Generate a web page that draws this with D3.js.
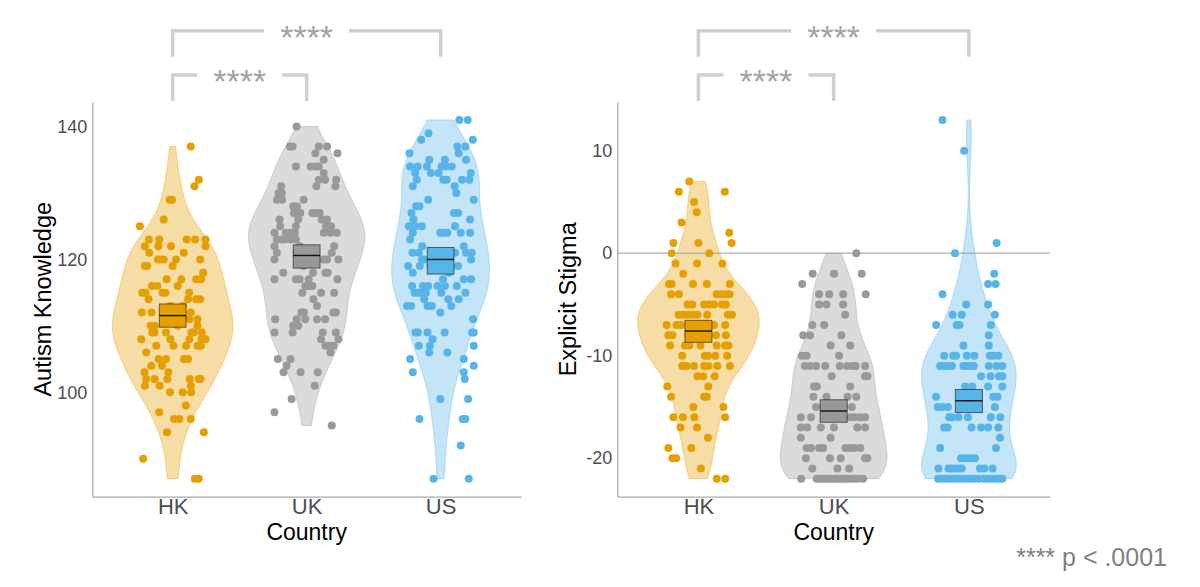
<!DOCTYPE html>
<html>
<head>
<meta charset="utf-8">
<script src="https://cdn.jsdelivr.net/npm/d3@7/dist/d3.min.js"></script>
<style>
  html, body { margin: 0; background: #fff; }
  svg { display: block; font-family: "Liberation Sans", Arial, sans-serif; }
</style>
</head>
<body>
<svg id="chart" width="1200" height="587"></svg>
<script>
const countries = ['HK', 'UK', 'US'];
const groupColors = ['#E69F00', '#999999', '#56B4E9'];

// rows: [score, [jitter of each respondent with that score, -1..1]]
const knowledgeHK = [
  [137, [0.54]], [132, [0.78]], [131, [0.65]], [129, [-0.09, -0.02]], [126, [-0.27]], [125, [-0.98]],
  [123, [-0.71, -0.4, 0.42, 0.67, 0.98]], [122, [-0.83, -0.43, -0.05, 0.98]], [121, [-0.7, 0.33]],
  [120, [-0.44, -0.35, -0.27, 0.1, 0.82]], [119, [-0.83, -0.76, 0]], [118, [0.91]],
  [117, [-0.18, 0.26, 0.7, 0.85]], [116, [-0.62, -0.46, 0.15]], [115, [-0.91, -0.81, -0.3, -0.22, 0.49]],
  [114, [-0.72, 0.46, 0.7, 0.82]], [113, [-0.07, 0.3]], [112, [-0.92, -0.63, -0.25, 0.2, 0.54]],
  [111, [-0.1, 0.5, 0.74]], [110, [-0.66, -0.54, 0.15, 0.74]], [109, [-0.61, -0.54, -0.2, 0.56, 0.63, 0.87]],
  [108, [-0.94, -0.07, 0.5, 0.86, 0.98]], [107, [-0.49, 0.02, 0.4, 0.74, 0.84]], [106, [-0.79]],
  [105, [-0.42, -0.2, 0.34, 0.46]], [104, [-0.64, -0.32]], [103, [-0.84, -0.13]],
  [102, [-0.79, -0.54, -0.16, 0.51, 0.78, 0.83]], [101, [-0.83, -0.39, 0.54]], [100, [-0.08, 0.3, 0.55]],
  [98, [0.39]], [97, [-0.4]], [96, [0.04, 0.2, 0.54]], [94, [-0.17, 0.93]], [90, [-0.88]], [87, [0.66, 0.78]]
];
const knowledgeUK = [
  [140, [-0.3]], [137, [-0.5, -0.42, 0.36, 0.61]], [136, [0.26, 0.92]], [135, [0.51]],
  [134, [-0.32, 0.12, 0.26, 0.36]], [133, [0.51]], [132, [0.36, 0.55, 0.88]], [131, [-0.76, 0.29, 0.86]],
  [130, [-0.84, -0.74]], [129, [-0.89, -0.73, -0.09]], [128, [-0.4, -0.29]],
  [127, [-0.38, -0.19, 0.17, 0.26, 0.39]], [126, [-0.81, -0.25, 0.45, 0.61]], [125, [-0.79, -0.32, 0.58, 0.73]],
  [124, [-0.96, -0.62, -0.5, -0.35, 0.51, 0.71, 0.9]], [123, [-0.89, -0.76, -0.65, -0.48, -0.32]],
  [122, [-0.96, -0.2, 0.82]], [121, [-0.89, -0.3, 0.1, 0.75]], [120, [-0.96, 0.2, 0.51, 0.61, 0.95]],
  [119, [-0.1]], [118, [-0.7, 0.19, 0.56, 0.63]], [117, [-0.96, -0.32, -0.21, 0.06, 0.92]],
  [116, [-0.04, 0.06, 0.17]], [115, [-0.13, 0.43, 0.82]], [114, [0.2]], [113, [0.31]],
  [112, [-0.16, -0.08, 0.8, 0.87]], [111, [-0.94, -0.3, -0.04, 0.31, 0.55]], [110, [-0.4, -0.25]],
  [109, [-0.96, -0.42, 0.48, 0.87]], [108, [0.43, 0.95]], [107, [0.56, 0.68, 0.8]], [106, [0.71]],
  [105, [-0.86, -0.48]], [104, [-0.6]], [103, [-0.69, -0.18, 0.33]], [101, [0.24]], [99, [-0.45]],
  [97, [-0.96]], [95, [0.75]]
];
const knowledgeUS = [
  [141, [0.56, 0.81]], [139, [-0.36]], [138, [-0.58, 0.96]], [137, [0.5, 0.74]], [136, [-0.93, 0.54]],
  [135, [-0.34, 0.13, 0.76]], [134, [-0.91, -0.68, -0.41, 0.03, 0.15, 0.33]], [133, [-0.76, -0.29, -0.06, 0.9]],
  [132, [-0.71, 0.08, 0.18, 0.64, 0.86]], [131, [-0.83, 0.42]], [130, [0.47]], [129, [-0.37, 0.99]],
  [128, [-0.73, -0.63]], [127, [-0.87, 0.4, 0.52]], [126, [-0.81, 0.88]],
  [125, [-0.95, -0.86, -0.75, -0.56, 0.43]], [124, [-0.83, -0.01, 0.08, 0.2, 0.6, 0.88]], [123, [-0.91]],
  [122, [-0.55, 0.69]], [121, [-0.84, -0.65, -0.2, 0.43, 0.76, 0.93]], [120, [-0.56, -0.49, 0.1, 0.91]],
  [119, [-0.97, -0.62, -0.3, 0.52]], [118, [-0.83, 0.25]], [117, [0.07, 0.69, 0.91]],
  [116, [-0.85, -0.53, -0.37, -0.09, 0.13, 0.48]], [115, [-0.78, -0.68, -0.6, -0.44, 0.02, 0.74]],
  [114, [-0.49, 0.23, 0.54]], [113, [-1.0, -0.88, -0.39, -0.26, 0.32]], [112, [-0.01]], [111, [0.97]],
  [109, [-0.75, -0.68, -0.39, 0.12, 0.94, 0.99]], [108, [-0.24]], [107, [-0.65, -0.32, 0.99]],
  [106, [-0.34, 0.2]], [105, [-0.91, 0.69]], [104, [0.99]], [103, [-0.83, 0.69]], [102, [0.72]],
  [99, [-0.01, 0.82]], [96, [-0.63, 0.66, 0.74]], [92, [0.6]], [87, [-0.21, 0.84]]
];
const knowledgeMean = [111.55, 120.6, 120.0];
const knowledgeLow = [109.8, 118.7, 117.8];
const knowledgeHigh = [113.3, 122.2, 121.8];
const knowledgeTicks = [100, 120, 140];

const stigmaHK = [
  [7, [-0.27]], [6, [-0.58, 0.78]], [5, [-0.13]], [4, [-0.05]], [3, [-0.5]], [2, [0.91]],
  [1, [-0.74, 0, 0.98]], [0, [-0.79, 0.32]], [-1, [-0.68, -0.04, 0.71]], [-2, [-0.45]],
  [-3, [-0.87, -0.79, -0.16, 0.25, 0.93]], [-4, [-0.81, -0.58, 0.54, 0.68, 0.79, 0.92]],
  [-5, [-0.32, -0.18, 0.17, 0.31, 0.46, 0.7, 0.81]], [-6, [-0.58, -0.45, -0.3, -0.17, -0.03, 0.26, 0.87, 0.99]],
  [-7, [-0.94, -0.65, -0.52, -0.2, 0.25, 0.46, 0.79]], [-8, [-0.89, -0.77, -0.3, 0.05, 0.52, 0.81]],
  [-9, [-0.84, -0.4, -0.27, 0.06, 0.54, 0.79, 0.89]], [-10, [-0.48, 0.19, 0.28, 0.5, 0.85]],
  [-11, [-0.48, -0.35, -0.13, 0.17, 0.3, 0.56, 0.93]], [-12, [-0.03, 0.14, 0.48]], [-13, [-0.92, 0.29]],
  [-14, [-0.81, 0.17, 0.25]], [-15, [-0.15, 0.74]], [-16, [-0.74, -0.46, -0.12, 0.79]], [-17, [-0.53, -0.04]],
  [-18, [0.28]], [-19, [-0.89, -0.21]], [-20, [-0.77, -0.66]], [-21, [0.07]], [-22, [0.54, 0.79]]
];
const stigmaUK = [
  [0, [0.67]], [-2, [-0.62, 0.01, 0.83]], [-3, [-0.93]], [-4, [-0.43, -0.13, 0.28, 0.95]],
  [-5, [-0.43, -0.21, 0.28]], [-6, [0.34]], [-7, [-0.63, -0.28]], [-8, [-0.9, -0.7, 0.23]], [-9, [-0.09, 0.49]],
  [-10, [-0.94, -0.8, 0.16]], [-11, [-0.85, -0.7, -0.52, -0.25, 0.18, 0.4, 0.56, 0.65, 0.93]],
  [-12, [-0.06, 0.93, 1.0]], [-13, [-0.58, -0.5, 0.49]], [-14, [-0.6, -0.21, 0.41, 0.67]],
  [-15, [-0.52, -0.1, 0.3, 0.54]], [-16, [-0.97, -0.67, 0.2, 0.5, 0.62, 0.79, 0.93]],
  [-17, [-0.97, -0.78, -0.38, 0.01, 0.7, 0.93]], [-18, [-0.97, -0.09]],
  [-19, [-0.8, -0.67, -0.43, -0.31, 0.35, 0.5, 0.62, 0.79]], [-20, [-0.82, -0.11, 0.21, 0.93, 1.0]],
  [-21, [-0.63, 0.11, 0.46]],
  [-22, [-0.96, -0.5, -0.42, -0.33, -0.24, -0.15, -0.06, 0.03, 0.12, 0.21, 0.3, 0.4, 0.52, 0.62, 0.72, 0.87]]
];
const stigmaUS = [
  [13, [-0.78]], [10, [-0.14]], [1, [0.82]], [0, [-0.41]], [-2, [0.75]], [-3, [0.57, 0.79]], [-4, [-0.78]],
  [-5, [-0.08, 0.57]], [-6, [-0.48, -0.21, 0.77]], [-7, [-0.97, -0.36, -0.28, 0.65]], [-8, [0.59]],
  [-9, [-0.16, 0.59]], [-10, [-0.73, -0.46, -0.38, -0.06, 0.16, 0.62, 0.72, 0.87]],
  [-11, [-0.85, -0.75, -0.65, -0.5, -0.16, -0.06, 0.04, 0.14, 0.59, 0.82, 0.99]],
  [-12, [0.36, 0.64, 0.89, 0.99]], [-13, [-0.11, 0.1, 0.57, 0.99]], [-14, [-0.97, -0.2, 0.3, 0.72, 0.85]],
  [-15, [-0.92, -0.78, -0.62, 0.1, 0.77]], [-16, [-0.58, -0.5, -0.31, -0.03, 0.65, 0.93]],
  [-17, [-0.73, -0.63, 0.08, 0.36, 0.57, 0.87]], [-18, [0.92]], [-19, [-0.85, 0.8]],
  [-20, [-0.23, -0.13, -0.03, 0.08, 0.18]], [-21, [-0.9, -0.6, -0.5, -0.41, -0.31, -0.21, 0.33, 0.46, 0.7]],
  [-22, [-0.91, -0.8, -0.68, -0.56, -0.44, -0.33, -0.21, -0.09, 0.03, 0.14, 0.28, 0.43, 0.54, 0.66, 0.78, 0.9, 0.99]]
];
const stigmaMean = [-7.6, -15.4, -14.4];
const stigmaLow = [-8.7, -16.5, -15.55];
const stigmaHigh = [-6.55, -14.3, -13.3];
const stigmaTicks = [-20, -10, 0, 10];

const comparisons = [['HK', 'US'], ['HK', 'UK']];
const pLabel = '****';
const footnote = '**** p < .0001';

const FONT = '"Liberation Sans", Arial, sans-serif';
const svg = d3.select('#chart');

// ── density (gaussian kernel, bw.nrd0, trimmed to data range) ─────────────

function bwNrd0(vals) {
  const s = vals.slice().sort(d3.ascending);
  const iqr = d3.quantile(s, 0.75) - d3.quantile(s, 0.25);
  const lo = Math.min(d3.deviation(s), iqr / 1.34);
  return 0.9 * lo * Math.pow(s.length, -0.2);
}

function density(vals) {
  const bw = bwNrd0(vals);
  const [a, b] = d3.extent(vals);
  const k = 1 / (bw * Math.sqrt(2 * Math.PI));
  return d3.range(512).map(i => {
    const t = a + (b - a) * i / 511;
    return { t, d: k * d3.mean(vals, v => Math.exp(-0.5 * ((t - v) / bw) ** 2)) };
  });
}

// ── one panel ────────────────────────────────────────────────────────────

function panel(cfg) {
  const g = svg.append('g');
  const pts = cfg.groups.map(rows => rows.flatMap(([v, js]) => js.map(j => ({ v, j }))));
  const all = pts.flat().map(p => p.v);
  const [mn, mx] = d3.extent(all);
  const pad = (mx - mn) * 0.05;

  const x = d3.scalePoint().domain(countries).range([cfg.x0, cfg.x1]).padding(0.6);
  const y = d3.scaleLinear().domain([mn - pad, mx + pad]).range([cfg.y1, cfg.y0]);
  const step = x.step();

  const dens = pts.map(p => density(p.map(d => d.v)));
  const maxD = d3.max(dens.flat(), d => d.d);
  const w = d3.scaleLinear().domain([0, maxD]).range([0, 0.45 * step]);

  // violins
  countries.forEach((c, i) => {
    const cx = x(c);
    g.append('path').datum(dens[i])
      .attr('d', d3.area().y(d => y(d.t)).x0(d => cx - w(d.d)).x1(d => cx + w(d.d)))
      .attr('fill', groupColors[i]).attr('fill-opacity', 0.35)
      .attr('stroke', groupColors[i]).attr('stroke-opacity', 0.5).attr('stroke-width', 0.8);
  });

  if (cfg.zeroLine) {
    g.append('line')
      .attr('x1', cfg.x0).attr('x2', cfg.x1)
      .attr('y1', y(0)).attr('y2', y(0))
      .attr('stroke', '#9a9a9a').attr('stroke-width', 1);
  }

  // jittered respondents
  countries.forEach((c, i) => {
    const cx = x(c);
    g.append('g').selectAll('circle')
      .data(pts[i])
      .join('circle')
      .attr('cx', d => cx + d.j * 0.25 * step)
      .attr('cy', d => y(d.v))
      .attr('r', 4)
      .attr('fill', groupColors[i]);
  });

  // mean + CI crossbar
  countries.forEach((c, i) => {
    const cx = x(c), bw = 0.1 * step;
    g.append('rect')
      .attr('x', cx - bw).attr('width', 2 * bw)
      .attr('y', y(cfg.high[i])).attr('height', y(cfg.low[i]) - y(cfg.high[i]))
      .attr('fill', groupColors[i])
      .attr('stroke', 'rgba(0,0,0,0.55)').attr('stroke-width', 1);
    g.append('line')
      .attr('x1', cx - bw).attr('x2', cx + bw)
      .attr('y1', y(cfg.mean[i])).attr('y2', y(cfg.mean[i]))
      .attr('stroke', '#111').attr('stroke-width', 1.4);
  });

  // axes
  const ay = g.append('g').attr('transform', `translate(${cfg.x0},0)`)
    .call(d3.axisLeft(y).tickValues(cfg.ticks).tickSize(0).tickPadding(5).tickFormat(d => String(d)))
    .attr('font-family', FONT).attr('font-size', 18);
  ay.select('.domain').attr('stroke', '#a8a8a8').attr('stroke-width', 1.2);
  ay.selectAll('text').attr('fill', '#4d4d4d');

  const ax = g.append('g').attr('transform', `translate(0,${cfg.y1})`)
    .call(d3.axisBottom(x).tickSize(0).tickPadding(1.5))
    .attr('font-family', FONT).attr('font-size', 22);
  ax.select('.domain').attr('stroke', '#a8a8a8').attr('stroke-width', 1.2);
  ax.selectAll('text').attr('fill', '#4d4d4d');

  g.append('text')
    .attr('x', (cfg.x0 + cfg.x1) / 2).attr('y', cfg.y1 + 43)
    .attr('text-anchor', 'middle').attr('font-size', 23).attr('fill', '#000')
    .text('Country');

  g.append('text')
    .attr('transform', `translate(${cfg.x0 - 41},${(cfg.y0 + cfg.y1) / 2}) rotate(-90)`)
    .attr('text-anchor', 'middle').attr('font-size', 23.5).attr('fill', '#000')
    .text(cfg.title);

  // significance brackets
  comparisons.forEach(([a, b], k) => {
    const top = cfg.y0 - 71.3 + k * 44.3;
    const xa = x(a), xb = x(b), xm = (xa + xb) / 2;
    const t = g.append('text')
      .attr('x', xm).attr('y', top + 17.8)
      .attr('text-anchor', 'middle').attr('font-size', 34).attr('fill', '#a3a3a3')
      .text(pLabel);
    const half = t.node().getComputedTextLength() / 2 + 16;
    g.append('path')
      .attr('d', `M${xa},${top + 26}V${top}H${xm - half}M${xm + half},${top}H${xb}V${top + 26}`)
      .attr('fill', 'none').attr('stroke', '#cfcfcf').attr('stroke-width', 3.5);
  });
}

panel({
  x0: 92.3, x1: 521, y0: 102, y1: 496.6,
  groups: [knowledgeHK, knowledgeUK, knowledgeUS],
  mean: knowledgeMean, low: knowledgeLow, high: knowledgeHigh,
  ticks: knowledgeTicks, title: 'Autism Knowledge', zeroLine: false
});

panel({
  x0: 617.3, x1: 1050, y0: 102, y1: 496.6,
  groups: [stigmaHK, stigmaUK, stigmaUS],
  mean: stigmaMean, low: stigmaLow, high: stigmaHigh,
  ticks: stigmaTicks, title: 'Explicit Stigma', zeroLine: true
});

svg.append('text')
  .attr('x', 1167).attr('y', 566)
  .attr('text-anchor', 'end').attr('font-size', 25).attr('fill', '#808080')
  .text(footnote);
</script>
</body>
</html>
